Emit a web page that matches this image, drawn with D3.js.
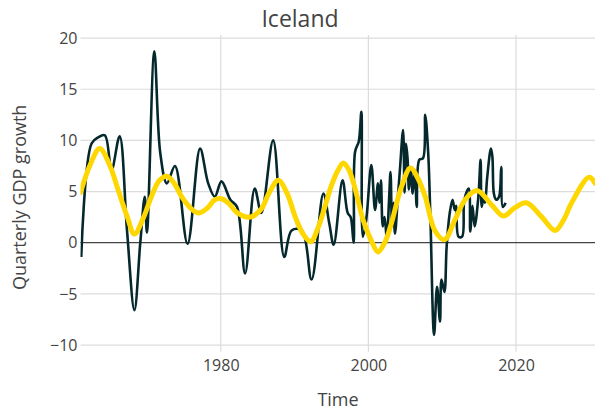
<!DOCTYPE html>
<html><head><meta charset="utf-8">
<script src="https://cdn.jsdelivr.net/npm/d3@7"></script>
<style>body{margin:0;background:#fff}svg{display:block}text{font-family:"Open Sans",sans-serif;fill:#444}</style>
</head><body><svg id="c" width="595" height="414"></svg>
<script>
const title = "Iceland";
const xLabel = "Time";
const yLabel = "Quarterly GDP growth";
const xTicks = [1980, 2000, 2020];
const yTicks = [20, 15, 10, 5, 0, -5, -10];
// observed quarterly GDP growth: [year, value]
const gdpYears = [1961.1,1962.5,1963.4,1964.3,1965.2,1966.3,1967.3,1968.3,1969.1,1969.7,1970.0,1971.0,1971.8,1972.7,1973.8,1975.5,1977.2,1978.3,1979.2,1980.1,1981.3,1982.2,1983.3,1984.6,1985.5,1987.1,1988.6,1989.6,1991.0,1992.3,1993.9,1994.7,1995.3,1996.5,1997.2,1997.6,1998.0,1998.2,1998.7,1999.05,1999.25,1999.7,2000.4,2000.9,2001.3,2001.5,2001.7,2001.95,2002.2,2002.5,2002.8,2003.0,2003.2,2003.4,2003.6,2004.0,2004.3,2004.7,2004.9,2005.1,2005.3,2005.5,2005.75,2006.0,2006.3,2006.55,2006.9,2007.4,2007.7,2008.1,2008.4,2008.9,2009.3,2009.7,2009.9,2010.3,2010.6,2011.0,2011.4,2011.7,2011.9,2012.2,2012.7,2013.0,2013.6,2013.8,2014.1,2014.4,2014.9,2015.2,2015.35,2015.6,2015.8,2016.1,2016.6,2016.8,2017.0,2017.3,2017.7,2018.0,2018.2,2018.6];
const gdpValues = [-1.4,9.7,10.3,10.5,7.1,10.4,1.2,-6.6,0,4.5,1.0,18.7,8.8,5.8,7.5,-0.1,9.2,5.8,4.5,6.0,4.2,3.5,-3.0,5.3,2.9,10.0,-1.4,1.2,1.2,-3.6,4.8,1.9,-0.2,6.1,2.9,2.5,0,8.9,9.9,12.8,0.6,2.2,7.6,3.2,5.8,3.9,6.1,1.6,2.5,0.3,4.2,6.9,1.6,3.9,0.9,4.5,7.4,11.0,4.9,9.7,8.3,5.2,7.4,4.8,7.1,3.5,8.1,8.25,12.5,8.8,2.5,-9.0,-4.3,-7.7,-3.6,-4.8,-0.4,2.8,4.2,3.2,3.6,0.6,0.6,4.2,5.3,1.1,3.6,1.6,4.5,8.1,3.5,4.5,3.9,6.4,9.2,8.4,4.8,4.2,4.5,7.4,3.5,3.9];
// fitted / forecast curve
const fitYears = [1961.0,1962.3,1963.6,1965.0,1966.1,1967.3,1968.3,1969.5,1970.6,1971.7,1972.7,1973.7,1974.7,1975.9,1977.0,1978.2,1979.2,1980.1,1981.0,1982.3,1984.0,1985.5,1986.5,1987.8,1989.0,1990.1,1991.2,1992.2,1993.2,1994.1,1995.0,1995.9,1996.6,1997.3,1998.0,1999.3,2000.4,2001.3,2002.2,2003.0,2004.5,2005.7,2006.7,2007.7,2009.0,2010.3,2011.7,2013.1,2014.7,2016.7,2018.3,2019.8,2021.4,2023.5,2025.3,2026.5,2027.5,2029.9,2030.7];
const fitValues = [4.9,7.6,9.2,7.5,5.15,2.6,0.85,2.4,4.5,6.1,6.5,5.8,4.5,3.4,2.9,3.4,4.2,4.3,3.9,2.9,2.5,3.3,4.8,6.1,4.8,2.5,0.8,0.1,1.5,3.5,5.6,7.1,7.8,7.2,5.8,2.2,0.2,-0.9,0.0,1.6,5.5,7.3,6.3,4.5,1.2,0.3,2.2,4.2,5.1,3.7,2.6,3.4,3.9,2.5,1.2,2.3,3.85,6.4,5.8];

const svg = d3.select("#c");
const L = 80.5, R = 595, T = 35, B = 351.7;
const x = d3.scaleLinear().domain([1961, 2030.7]).range([L, R]);
const y = d3.scaleLinear().domain([-10.65, 20.3]).range([B, T]);

// grid
svg.append("g").selectAll("line").data(yTicks.filter(d => d !== 0)).join("line")
  .attr("x1", L).attr("x2", R).attr("y1", d => y(d)).attr("y2", d => y(d))
  .attr("stroke", "#dcdcdc").attr("stroke-width", 1.2);
svg.append("g").selectAll("line").data(xTicks).join("line")
  .attr("x1", d => x(d)).attr("x2", d => x(d)).attr("y1", T).attr("y2", B)
  .attr("stroke", "#dcdcdc").attr("stroke-width", 1.2);
svg.append("line").attr("x1", L).attr("x2", R).attr("y1", y(0)).attr("y2", y(0))
  .attr("stroke", "#444").attr("stroke-width", 1.3);

// axes labels via d3 axes
const yAxis = svg.append("g").attr("transform", `translate(${L - 1},0)`)
  .call(d3.axisLeft(y).tickValues(yTicks).tickSize(0).tickPadding(2).tickFormat(d => d < 0 ? "\u2212" + Math.abs(d) : d));
yAxis.select(".domain").remove();
yAxis.selectAll("text").attr("font-size", 16).attr("fill", "#444").attr("font-family", "Open Sans");
const xAxis = svg.append("g").attr("transform", `translate(0,${B})`)
  .call(d3.axisBottom(x).tickValues(xTicks).tickSize(0).tickPadding(8).tickFormat(d3.format("d")));
xAxis.select(".domain").remove();
xAxis.selectAll("text").attr("font-size", 16).attr("fill", "#444").attr("font-family", "Open Sans");

svg.append("defs").append("clipPath").attr("id", "clip")
  .append("rect").attr("x", L).attr("y", T - 5).attr("width", R - L).attr("height", B - T + 10);

const gdp = gdpYears.map((d, i) => [d, gdpValues[i]]);
const fit = fitYears.map((d, i) => [d, fitValues[i]]);
const line = d3.line().x(d => x(d[0])).y(d => y(d[1])).curve(d3.curveCatmullRom.alpha(0.5));
const g = svg.append("g").attr("clip-path", "url(#clip)");
g.append("path").attr("d", line(gdp)).attr("fill", "none").attr("stroke", "#04282c")
  .attr("stroke-width", 2.6).attr("stroke-linejoin", "round");
g.append("path").attr("d", line(fit)).attr("fill", "none").attr("stroke", "#FFD700")
  .attr("stroke-width", 5).attr("stroke-linejoin", "round").attr("stroke-linecap", "round");

svg.append("text").attr("x", 300).attr("y", 27).attr("text-anchor", "middle")
  .attr("font-size", 23).text(title);
svg.append("text").attr("x", 338).attr("y", 406).attr("text-anchor", "middle")
  .attr("font-size", 18).text(xLabel);
svg.append("text").attr("transform", `translate(26,${(T + B) / 2 + 4}) rotate(-90)`)
  .attr("text-anchor", "middle").attr("font-size", 18).text(yLabel);
</script></body></html>
